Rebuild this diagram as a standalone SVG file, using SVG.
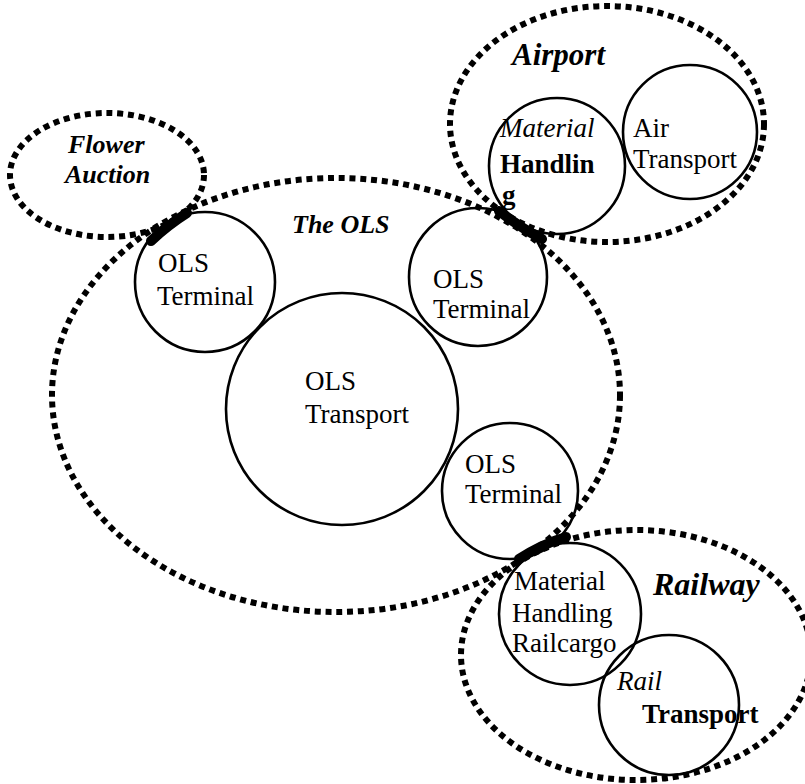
<svg xmlns="http://www.w3.org/2000/svg" width="805" height="784" viewBox="0 0 805 784">
<style>
.dash{fill:none;stroke:#000;stroke-width:6;stroke-dasharray:6 4.8}
.circ{fill:none;stroke:#000;stroke-width:2.6}
.t{font-family:"Liberation Serif","Times New Roman",serif;font-size:27px;fill:#000}
.bi{font-family:"Liberation Serif","Times New Roman",serif;font-weight:bold;font-style:italic;fill:#000}
.b{font-weight:bold}
.i{font-style:italic}
.link{fill:none;stroke:#000;stroke-width:10;stroke-linecap:round}
</style>
<rect width="805" height="784" fill="#fff"/>
<g id="ols">
<ellipse class="dash" cx="336" cy="395" rx="284" ry="217"/>
<text class="bi" x="292" y="233" font-size="26">The OLS</text>
</g>
<g id="flower-auction">
<ellipse class="dash" cx="107" cy="175" rx="97" ry="62"/>
<text class="bi" x="68" y="153" font-size="26">Flower</text>
<text class="bi" x="65" y="183" font-size="26">Auction</text>
</g>
<g id="airport">
<ellipse class="dash" cx="607" cy="124" rx="157" ry="118"/>
<text class="bi" x="512" y="65" font-size="31">Airport</text>
</g>
<g id="railway">
<ellipse class="dash" cx="636" cy="655" rx="175" ry="125"/>
<text class="bi" x="653" y="595" font-size="32">Railway</text>
</g>
<g id="ols-terminal-1">
<circle class="circ" cx="205" cy="282" r="70"/>
<text class="t" x="158" y="272">OLS</text>
<text class="t" x="157" y="305">Terminal</text>
</g>
<g id="ols-terminal-2">
<circle class="circ" cx="478" cy="277" r="69"/>
<text class="t" x="433" y="288">OLS</text>
<text class="t" x="433" y="318">Terminal</text>
</g>
<g id="ols-terminal-3">
<circle class="circ" cx="510" cy="491" r="68"/>
<text class="t" x="465" y="473">OLS</text>
<text class="t" x="465" y="503">Terminal</text>
</g>
<g id="ols-transport">
<circle class="circ" cx="342" cy="409" r="116"/>
<text class="t" x="305" y="390">OLS</text>
<text class="t" x="305" y="423">Transport</text>
</g>
<g id="material-handling-air">
<circle class="circ" cx="557" cy="166" r="68"/>
<text class="t i" x="500" y="137">Material</text>
<text class="t b" x="500" y="173" font-size="33">Handlin</text>
<text class="t b" x="502" y="204" font-size="33">g</text>
</g>
<g id="air-transport">
<circle class="circ" cx="690" cy="132" r="67"/>
<text class="t" x="633" y="137">Air</text>
<text class="t" x="633" y="168">Transport</text>
</g>
<g id="material-handling-rail">
<circle class="circ" cx="570" cy="614" r="71"/>
<text class="t" x="514" y="590">Material</text>
<text class="t" x="512" y="622">Handling</text>
<text class="t" x="512" y="652">Railcargo</text>
</g>
<g id="rail-transport">
<circle class="circ" cx="669" cy="705" r="70"/>
<text class="t i" x="617" y="690">Rail</text>
<text class="t b" x="642" y="723" font-size="26">Transport</text>
</g>
<g id="connectors">
<path class="link" d="M151,241 Q168,225 187,213"/>
<path class="link" d="M499,211 Q521,228 542,239"/>
<path class="link" d="M519,559 Q542,544 566,537"/>
</g>
</svg>
